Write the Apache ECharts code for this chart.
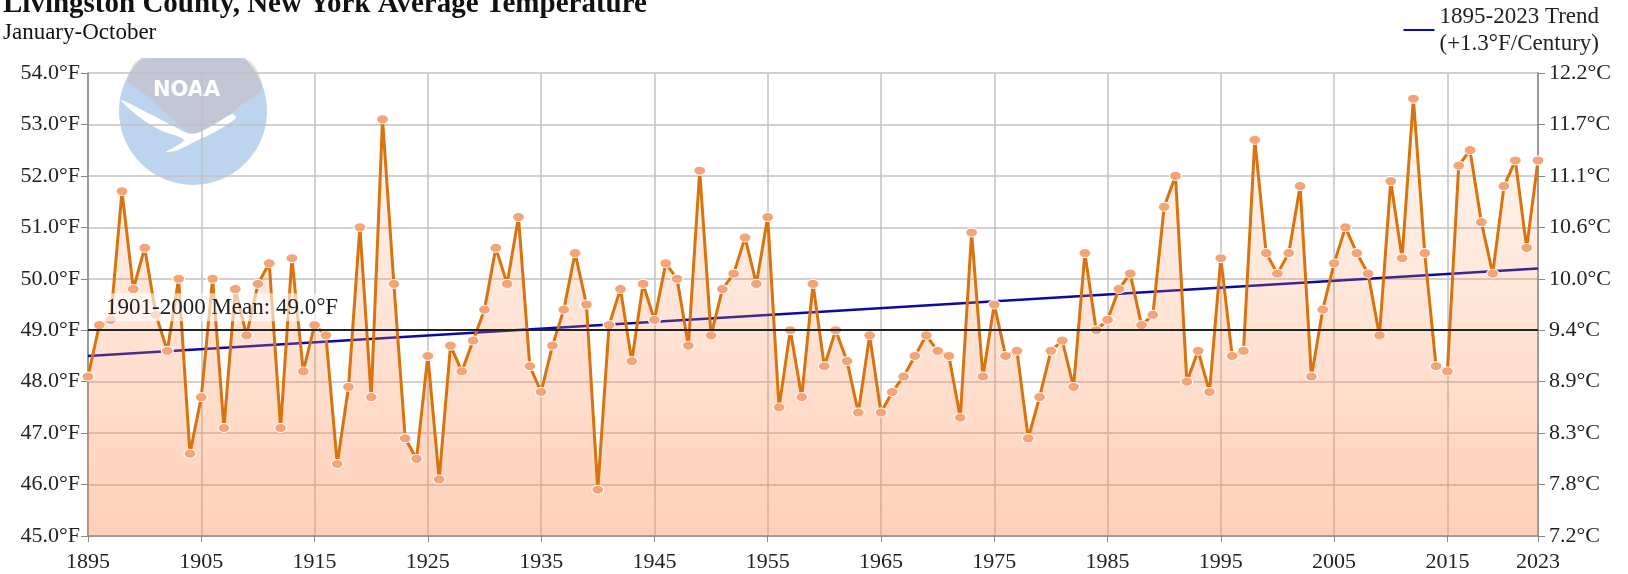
<!DOCTYPE html>
<html>
<head>
<meta charset="utf-8">
<script src="https://cdn.jsdelivr.net/npm/echarts@6/dist/echarts.min.js"></script>
<style>
  html, body { margin: 0; padding: 0; background: #fff; }
  #chart { width: 1628px; height: 574px; }
</style>
</head>
<body>
<div id="chart"></div>
<script>
// data
const startYear = 1895
const endYear = 2023
const temps = [
  48.1, 49.1, 49.2, 51.7, 49.8, 50.6, 49.3, 48.6, 50.0, 46.6,
  47.7, 50.0, 47.1, 49.8, 48.9, 49.9, 50.3, 47.1, 50.4, 48.2,
  49.1, 48.9, 46.4, 47.9, 51.0, 47.7, 53.1, 49.9, 46.9, 46.5,
  48.5, 46.1, 48.7, 48.2, 48.8, 49.4, 50.6, 49.9, 51.2, 48.3,
  47.8, 48.7, 49.4, 50.5, 49.5, 45.9, 49.1, 49.8, 48.4, 49.9,
  49.2, 50.3, 50.0, 48.7, 52.1, 48.9, 49.8, 50.1, 50.8, 49.9,
  51.2, 47.5, 49.0, 47.7, 49.9, 48.3, 49.0, 48.4, 47.4, 48.9,
  47.4, 47.8, 48.1, 48.5, 48.9, 48.6, 48.5, 47.3, 50.9, 48.1,
  49.5, 48.5, 48.6, 46.9, 47.7, 48.6, 48.8, 47.9, 50.5, 49.0,
  49.2, 49.8, 50.1, 49.1, 49.3, 51.4, 52.0, 48.0, 48.6, 47.8,
  50.4, 48.5, 48.6, 52.7, 50.5, 50.1, 50.5, 51.8, 48.1, 49.4,
  50.3, 51.0, 50.5, 50.1, 48.9, 51.9, 50.4, 53.5, 50.5, 48.3,
  48.2, 52.2, 52.5, 51.1, 50.1, 51.8, 52.3, 50.6, 52.3
]
const trendEnds = [48.5, 50.2]
const meanValue = 49.0
const labelYears = [1895, 1905, 1915, 1925, 1935, 1945, 1955, 1965, 1975, 1985, 1995, 2005, 2015, 2023]
const yMin = 45
const yMax = 54

let years = []
for (let y = startYear; y <= endYear; y++) {
  years.push(String(y))
}

const serif = '"Liberation Serif", "Times New Roman", serif'
// show only the decade ticks + last year
const showYear = (idx, val) => labelYears.indexOf(Number(val)) >= 0

let myChart = echarts.init(document.getElementById('chart'))

let option = {
  animation: false,
  textStyle: { fontFamily: serif },
  graphic: [
    // faded NOAA logo, translucent so the grid lines still show through
    { type: 'circle', shape: { cx: 193, cy: 111, r: 74 }, style: { fill: 'rgba(60, 130, 205, 0.34)' } },
    {
      type: 'polygon',
      shape: {
        smooth: 0.3,
        points: [[139, 60], [247, 60], [262, 88], [240, 106], [222, 120], [193, 133], [170, 117], [148, 97], [132, 85], [127, 81]]
      },
      style: { fill: 'rgba(206, 178, 175, 0.4)' }
    },
    {
      type: 'polygon',
      shape: {
        smooth: 0.3,
        points: [[121, 100], [150, 114], [175, 127], [193, 134], [215, 124], [232, 114], [236, 118], [215, 132], [196, 141], [178, 150], [166, 152], [184, 140], [160, 130], [138, 116]]
      },
      style: { fill: '#ffffff' }
    },
    { type: 'rect', shape: { x: 110, y: 0, width: 170, height: 58 }, style: { fill: '#ffffff' } },
    {
      type: 'text', left: 153, top: 80,
      style: { text: 'NOAA', fill: '#ffffff', font: 'bold 21px "DejaVu Sans", sans-serif' }
    },
    {
      type: 'text', left: 3, top: -10,
      style: { text: 'Livingston County, New York Average Temperature', fill: '#111', font: 'bold 29px ' + serif }
    },
    {
      type: 'text', left: 3, top: 21,
      style: { text: 'January-October', fill: '#111', font: '23px ' + serif }
    }
  ],
  legend: {
    right: 24,
    top: -2,
    data: ['trend'],
    itemWidth: 31,
    itemHeight: 2,
    itemGap: 12,
    formatter: () => '1895-2023 Trend\n(+1.3°F/Century)',
    textStyle: { fontFamily: serif, fontSize: 23, color: '#222', lineHeight: 27 }
  },
  grid: {
    left: 88,
    right: 90,
    top: 73,
    bottom: 38,
    outerBoundsMode: 'none'
  },
  xAxis: {
    type: 'category',
    boundaryGap: false,
    data: years,
    axisLine: { lineStyle: { color: '#888', width: 1.5 } },
    axisTick: { interval: showYear, length: 6, lineStyle: { color: '#888' } },
    axisLabel: { interval: showYear, fontFamily: serif, fontSize: 22, color: '#222', margin: 15 },
    splitLine: { show: true, interval: showYear, lineStyle: { color: '#c2c2c2', width: 1.5 } }
  },
  yAxis: [
    {
      type: 'value',
      min: yMin,
      max: yMax,
      interval: 1,
      axisLine: { show: true, lineStyle: { color: '#888', width: 1.5 } },
      axisTick: { show: true, length: 7, lineStyle: { color: '#888' } },
      axisLabel: {
        fontFamily: serif, fontSize: 22, color: '#222', margin: 8,
        formatter: v => v.toFixed(1) + '°F'
      },
      splitLine: { lineStyle: { color: '#c2c2c2', width: 1.5 } }
    },
    {
      type: 'value',
      position: 'right',
      min: yMin,
      max: yMax,
      interval: 1,
      axisLine: { show: true, lineStyle: { color: '#888', width: 1.5 } },
      axisTick: { show: true, length: 7, lineStyle: { color: '#888' } },
      axisLabel: {
        fontFamily: serif, fontSize: 22, color: '#222', margin: 11,
        formatter: v => ((v - 32) * 5 / 9).toFixed(1) + '°C'
      },
      splitLine: { show: false }
    }
  ],
  series: [
    {
      name: 'temp',
      type: 'line',
      data: temps,
      symbol: 'circle',
      symbolSize: [12, 9],
      showAllSymbol: true,
      lineStyle: { color: '#d9730d', width: 3 },
      itemStyle: { color: '#f4a479', borderColor: '#fff', borderWidth: 1 },
      areaStyle: {
        origin: 'start',
        color: new echarts.graphic.LinearGradient(0, 73, 0, 536, [
          { offset: 0, color: 'rgba(255, 150, 90, 0.08)' },
          { offset: 0.35, color: 'rgba(255, 140, 80, 0.25)' },
          { offset: 1, color: 'rgba(255, 135, 75, 0.56)' }
        ], true)
      },
      z: 3,
      markLine: {
        silent: true,
        symbol: 'none',
        data: [{ yAxis: meanValue }],
        lineStyle: { color: '#222', width: 2, type: 'solid' },
        label: {
          position: 'insideStartTop',
          formatter: '1901-2000 Mean: ' + meanValue.toFixed(1) + '°F',
          fontFamily: serif,
          fontSize: 23,
          color: '#222',
          backgroundColor: 'rgba(255,255,255,0.6)',
          padding: [3, 6, 2, 4],
          distance: [14, 9]
        }
      }
    },
    {
      name: 'trend',
      type: 'line',
      data: [[years[0], trendEnds[0]], [years[years.length - 1], trendEnds[1]]],
      symbol: 'none',
      lineStyle: { color: '#0a0aa8', width: 2.5 },
      itemStyle: { color: '#0a0aa8' },
      z: 2
    }
  ]
}

myChart.setOption(option)
window.addEventListener('resize', () => {
  myChart.resize()
})
</script>
</body>
</html>
